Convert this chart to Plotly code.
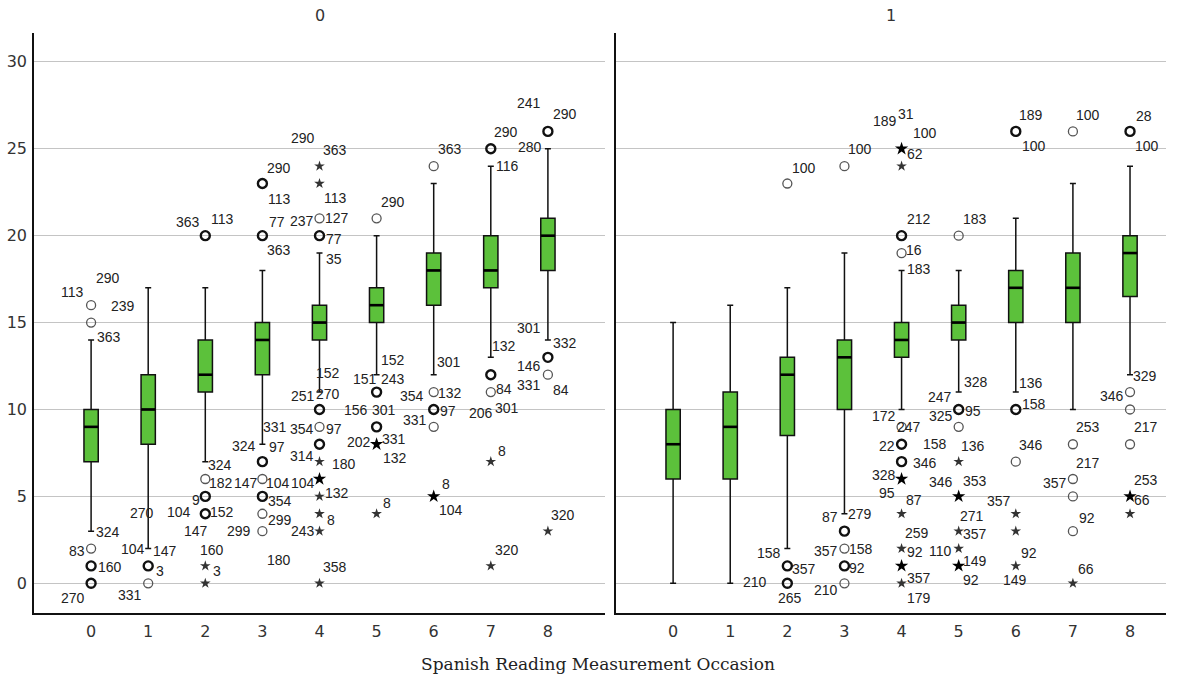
import plotly.graph_objects as go

# ---------------------------------------------------------------- data
OCCASIONS = [0, 1, 2, 3, 4, 5, 6, 7, 8]
Y_TICKS = [0, 5, 10, 15, 20, 25, 30]
GROUPS = ["0", "1"]
X_TITLE = "Spanish Reading Measurement Occasion"

# box statistics, group 0
g0_q1 = [7, 8, 11, 12, 14, 15, 16, 17, 18]
g0_median = [9, 10, 12, 14, 15, 16, 18, 18, 20]
g0_q3 = [10, 12, 14, 15, 16, 17, 19, 20, 21]
g0_low = [3, 2, 7, 8, 11, 12, 12, 13, 14]
g0_high = [14, 17, 17, 18, 19, 20, 23, 24, 25]

# box statistics, group 1
g1_q1 = [6, 6, 8.5, 10, 13, 14, 15, 15, 16.5]
g1_median = [8, 9, 12, 13, 14, 15, 17, 17, 19]
g1_q3 = [10, 11, 13, 14, 15, 16, 18, 19, 20]
g1_low = [0, 0, 2, 4, 10, 11, 11, 10, 12]
g1_high = [15, 16, 17, 19, 18, 18, 21, 23, 24]

# outliers: (occasion, score, kind, cases)  kind "o" = outlier, "*" = extreme
g0_outliers = [
    (0, 16, "o", 1), (0, 15, "o", 1), (0, 2, "o", 1), (0, 1, "o", 2), (0, 0, "o", 2),
    (1, 1, "o", 2), (1, 0, "o", 1),
    (2, 20, "o", 2), (2, 6, "o", 1), (2, 5, "o", 2), (2, 4, "o", 2), (2, 1, "*", 1), (2, 0, "*", 1),
    (3, 23, "o", 2), (3, 20, "o", 2), (3, 7, "o", 2), (3, 6, "o", 1), (3, 5, "o", 2),
    (3, 4, "o", 1), (3, 3, "o", 1),
    (4, 24, "*", 1), (4, 23, "*", 1), (4, 21, "o", 1), (4, 20, "o", 2), (4, 10, "o", 2),
    (4, 9, "o", 1), (4, 8, "o", 2), (4, 7, "*", 1), (4, 6, "*", 2), (4, 5, "*", 1),
    (4, 4, "*", 1), (4, 3, "*", 1), (4, 0, "*", 1),
    (5, 21, "o", 1), (5, 11, "o", 2), (5, 9, "o", 2), (5, 8, "*", 2), (5, 4, "*", 1),
    (6, 24, "o", 1), (6, 11, "o", 1), (6, 10, "o", 2), (6, 9, "o", 1), (6, 5, "*", 2),
    (7, 25, "o", 2), (7, 12, "o", 2), (7, 11, "o", 1), (7, 7, "*", 1), (7, 1, "*", 1),
    (8, 26, "o", 2), (8, 13, "o", 2), (8, 12, "o", 1), (8, 3, "*", 1),
]
g1_outliers = [
    (2, 23, "o", 1), (2, 1, "o", 2), (2, 0, "o", 2),
    (3, 24, "o", 1), (3, 3, "o", 2), (3, 2, "o", 1), (3, 1, "o", 2), (3, 0, "o", 1),
    (4, 25, "*", 2), (4, 24, "*", 1), (4, 20, "o", 2), (4, 19, "o", 1), (4, 9, "o", 1),
    (4, 8, "o", 2), (4, 7, "o", 2), (4, 6, "*", 2), (4, 4, "*", 1), (4, 2, "*", 1),
    (4, 1, "*", 2), (4, 0, "*", 1),
    (5, 20, "o", 1), (5, 10, "o", 2), (5, 9, "o", 1), (5, 7, "*", 1), (5, 5, "*", 2),
    (5, 3, "*", 1), (5, 2, "*", 1), (5, 1, "*", 2),
    (6, 26, "o", 2), (6, 10, "o", 2), (6, 7, "o", 1), (6, 4, "*", 1), (6, 3, "*", 1), (6, 1, "*", 1),
    (7, 26, "o", 1), (7, 8, "o", 1), (7, 6, "o", 1), (7, 5, "o", 1), (7, 3, "o", 1), (7, 0, "*", 1),
    (8, 26, "o", 2), (8, 11, "o", 1), (8, 10, "o", 1), (8, 8, "o", 1), (8, 5, "*", 2), (8, 4, "*", 1),
]

# case labels: (occasion, score, case id)
g0_labels = [
    (0, 16, "113"), (0, 16, "290"), (0, 16, "239"), (0, 14, "363"), (0, 3, "324"),
    (0, 2, "83"), (0, 1, "160"), (0, 0, "270"),
    (1, 2, "104"), (1, 2, "147"), (1, 1, "3"), (1, 0, "331"),
    (2, 20, "363"), (2, 20, "113"), (2, 7, "324"), (2, 6, "182"), (2, 5, "9"),
    (2, 4, "270"), (2, 4, "104"), (2, 4, "152"), (2, 4, "147"), (2, 1, "160"), (2, 1, "3"),
    (3, 23, "290"), (3, 23, "113"), (3, 20, "77"), (3, 20, "363"),
    (3, 8, "331"), (3, 8, "324"), (3, 8, "97"), (3, 6, "147"), (3, 6, "104"),
    (3, 5, "354"), (3, 4, "299"), (3, 3, "299"), (3, 3, "180"),
    (4, 24, "290"), (4, 24, "363"), (4, 23, "113"), (4, 21, "237"), (4, 21, "127"),
    (4, 20, "77"), (4, 19, "35"), (4, 11, "152"), (4, 10, "251"), (4, 10, "270"),
    (4, 9, "354"), (4, 9, "97"), (4, 8, "314"), (4, 7, "180"), (4, 6, "104"),
    (4, 5, "132"), (4, 4, "8"), (4, 3, "243"), (4, 0, "358"),
    (5, 21, "290"), (5, 12, "152"), (5, 12, "151"), (5, 12, "243"), (5, 11, "156"),
    (5, 11, "301"), (5, 8, "202"), (5, 8, "331"), (5, 8, "132"), (5, 4, "8"),
    (6, 24, "363"), (6, 12, "301"), (6, 11, "354"), (6, 11, "132"), (6, 10, "97"),
    (6, 9, "331"), (6, 5, "8"), (6, 5, "104"),
    (7, 25, "290"), (7, 24, "116"), (7, 13, "132"), (7, 11, "84"), (7, 11, "206"),
    (7, 11, "301"), (7, 7, "8"), (7, 1, "320"),
    (8, 26, "241"), (8, 26, "290"), (8, 25, "280"), (8, 14, "301"), (8, 14, "332"),
    (8, 13, "146"), (8, 12, "331"), (8, 12, "84"), (8, 3, "320"),
]
g1_labels = [
    (2, 23, "100"), (2, 2, "158"), (2, 1, "357"), (2, 0, "265"), (2, 0, "210"),
    (3, 24, "100"), (3, 4, "87"), (3, 4, "279"), (3, 2, "357"), (3, 2, "158"),
    (3, 1, "92"), (3, 0, "210"),
    (4, 25, "189"), (4, 25, "31"), (4, 25, "100"), (4, 25, "62"), (4, 20, "212"),
    (4, 19, "16"), (4, 18, "183"), (4, 10, "172"), (4, 9, "247"), (4, 8, "22"),
    (4, 8, "158"), (4, 7, "346"), (4, 6, "328"), (4, 6, "95"), (4, 6, "87"),
    (4, 4, "259"), (4, 2, "92"), (4, 1, "357"), (4, 0, "179"),
    (5, 20, "183"), (5, 11, "328"), (5, 11, "247"), (5, 10, "325"), (5, 10, "95"),
    (5, 9, "136"), (5, 5, "346"), (5, 5, "353"), (5, 3, "271"), (5, 3, "357"),
    (5, 2, "110"), (5, 1, "149"), (5, 1, "92"),
    (6, 26, "189"), (6, 26, "100"), (6, 11, "136"), (6, 10, "158"), (6, 7, "346"),
    (6, 4, "357"), (6, 1, "92"), (6, 1, "149"),
    (7, 26, "100"), (7, 8, "253"), (7, 6, "217"), (7, 6, "357"), (7, 3, "92"), (7, 0, "66"),
    (8, 26, "28"), (8, 26, "100"), (8, 12, "329"), (8, 11, "346"), (8, 8, "217"),
    (8, 5, "253"), (8, 5, "66"),
]

# ---------------------------------------------------------------- label placement (pixel offsets, same order)
g0_label_offsets = [
    (-19, -13), (17, -27), (32, 1), (18, -3), (17, 1),
    (-14, 2), (19, 1), (-18, 15),
    (-15, 0), (17, 2), (12, 5), (-18, 12),
    (-17, -14), (17, -17), (15, 3), (16, 4), (-9, 4),
    (-63, -1), (-26, -2), (17, -2), (-9, 17), (7, -16), (12, 5),
    (17, -16), (17, 15), (15, -14), (17, 14),
    (13, -17), (-18, 2), (15, 3), (-16, 4), (16, 4),
    (18, 5), (18, 6), (-23, 0), (17, 29),
    (-17, -28), (15, -16), (16, 14), (-18, 3), (17, 0),
    (14, 3), (14, 6), (8, -19), (-17, -13), (8, -15),
    (-18, 2), (14, 2), (-18, 12), (24, 2), (-17, 4),
    (17, -3), (11, 6), (-17, 0), (15, -16),
    (16, -16), (16, -15), (-12, 4), (16, 4), (-21, 18),
    (7, 18), (-18, -2), (17, -5), (18, 14), (10, -11),
    (16, -17), (15, -13), (-22, 4), (16, 1), (14, 2),
    (-19, -7), (12, -12), (17, 14),
    (15, -17), (17, 0), (13, -11), (13, -3), (-10, 21),
    (16, 16), (11, -11), (16, -16),
    (-19, -28), (17, -17), (-18, -2), (-19, -12), (17, 3),
    (-19, 9), (-19, 10), (13, 15), (15, -16),
]
g1_label_offsets = [
    (17, -16), (-18, 4), (17, 3), (3, 15), (-32, -1),
    (16, -17), (-14, 3), (16, 0), (-18, 2), (17, 0),
    (13, 2), (-18, 7),
    (-17, -28), (4, -35), (23, -16), (13, 5), (17, -17),
    (12, -3), (17, -1), (-18, 7), (7, 0), (-15, 2),
    (33, 0), (23, 1), (-18, -4), (-15, 14), (12, 21),
    (15, 19), (13, 3), (17, 12), (17, 15),
    (16, -17), (17, -10), (-19, 5), (-18, 7), (14, 2),
    (14, 19), (-18, -14), (16, -15), (13, -15), (16, 3),
    (-18, 2), (16, -5), (12, 14),
    (15, -16), (18, 15), (15, -9), (18, -5), (15, -17),
    (-17, -13), (13, -13), (-1, 14),
    (15, -16), (15, -17), (15, -16), (-18, 4), (14, -13), (13, -14),
    (14, -15), (17, 15), (15, 1), (-18, 4), (16, -17),
    (16, -16), (12, 4),
]

# ---------------------------------------------------------------- styling
W, H = 1183, 679
GREEN = "#5cc13b"
GRID = "#c4c4c4"
BOX_W = 0.25
LABEL_FONT = dict(family="Liberation Sans, Arial, sans-serif", size=14, color="#222222")
TICK_FONT = dict(family="DejaVu Sans", size=16, color="#333333")
Y_RANGE = [-1.709, 31.66]

panels = [
    dict(xa="x", ya="y", q1=g0_q1, med=g0_median, q3=g0_q3, lo=g0_low, hi=g0_high,
         out=g0_outliers, labels=g0_labels, offsets=g0_label_offsets),
    dict(xa="x2", ya="y2", q1=g1_q1, med=g1_median, q3=g1_q3, lo=g1_low, hi=g1_high,
         out=g1_outliers, labels=g1_labels, offsets=g1_label_offsets),
]

fig = go.Figure()
annotations = []

for p in panels:
    fig.add_trace(go.Box(
        x=OCCASIONS, q1=p["q1"], median=p["med"], q3=p["q3"],
        lowerfence=p["lo"], upperfence=p["hi"],
        xaxis=p["xa"], yaxis=p["ya"],
        fillcolor=GREEN, line=dict(color="#111111", width=1.5),
        width=BOX_W, whiskerwidth=0.42, boxpoints=False,
        hoverinfo="skip", showlegend=False,
    ))
    # heavier median bars
    mx, my = [], []
    for o, m in zip(OCCASIONS, p["med"]):
        mx += [o - BOX_W / 2, o + BOX_W / 2, None]
        my += [m, m, None]
    fig.add_trace(go.Scatter(x=mx, y=my, mode="lines", xaxis=p["xa"], yaxis=p["ya"],
                             line=dict(color="black", width=2.6),
                             hoverinfo="skip", showlegend=False))

    # outlier markers, split by kind and by number of coinciding cases
    styles = {
        ("o", 1): dict(symbol="circle-open", size=9, color="#555555", line=dict(width=1.3, color="#555555")),
        ("o", 2): dict(symbol="circle-open", size=9, color="#111111", line=dict(width=2.4, color="#111111")),
        ("*", 1): dict(symbol="star", size=8, color="#333333", line=dict(width=0)),
        ("*", 2): dict(symbol="star", size=10, color="#000000", line=dict(width=0)),
    }
    for key, mk in styles.items():
        pts = [(o, v) for o, v, k, n in p["out"] if (k, min(n, 2)) == key]
        if not pts:
            continue
        fig.add_trace(go.Scatter(
            x=[q[0] for q in pts], y=[q[1] for q in pts], mode="markers",
            xaxis=p["xa"], yaxis=p["ya"], marker=mk,
            hoverinfo="skip", showlegend=False, cliponaxis=False,
        ))

    for (o, v, txt), (dx, dy) in zip(p["labels"], p["offsets"]):
        annotations.append(dict(
            x=o, y=v, xref=p["xa"], yref=p["ya"], text=txt, showarrow=False,
            xshift=dx, yshift=-dy, xanchor="center", yanchor="middle", font=LABEL_FONT,
        ))

# panel headers and shared axis title
x0_dom = [34 / W, 605 / W]
x1_dom = [616 / W, 1166 / W]
y_dom = [1 - 613 / H, 1 - 33 / H]
for name, dom in zip(GROUPS, [x0_dom, x1_dom]):
    annotations.append(dict(x=(dom[0] + dom[1]) / 2, y=1 - 15 / H, xref="paper", yref="paper",
                            text=name, showarrow=False, font=TICK_FONT,
                            xanchor="center", yanchor="middle"))
annotations.append(dict(x=598 / W, y=1 - 664 / H, xref="paper", yref="paper", text=X_TITLE,
                        showarrow=False, xanchor="center", yanchor="middle",
                        font=dict(family="DejaVu Serif, serif", size=17, color="#222222")))

xaxis_common = dict(tickvals=OCCASIONS, ticktext=[str(o) for o in OCCASIONS], showgrid=False,
                    zeroline=False, showline=True, linecolor="#111111", linewidth=1.6,
                    ticks="", tickfont=TICK_FONT, ticklabelstandoff=3)
yaxis_common = dict(range=Y_RANGE, domain=y_dom, tickvals=Y_TICKS, showgrid=True, gridcolor=GRID,
                    gridwidth=1, zeroline=False, showline=True, linecolor="#111111",
                    linewidth=1.6, ticks="", tickfont=TICK_FONT)

fig.update_layout(
    width=W, height=H,
    margin=dict(l=0, r=0, t=0, b=0),
    paper_bgcolor="white", plot_bgcolor="white",
    xaxis=dict(domain=x0_dom, range=[-1, 9], anchor="y", **xaxis_common),
    xaxis2=dict(domain=x1_dom, range=[-1, 8.63], anchor="y2", **xaxis_common),
    yaxis=dict(anchor="x", ticklabelstandoff=2, **yaxis_common),
    yaxis2=dict(anchor="x2", showticklabels=False, **yaxis_common),
    annotations=annotations,
    showlegend=False,
)

fig.write_html("out.html")
